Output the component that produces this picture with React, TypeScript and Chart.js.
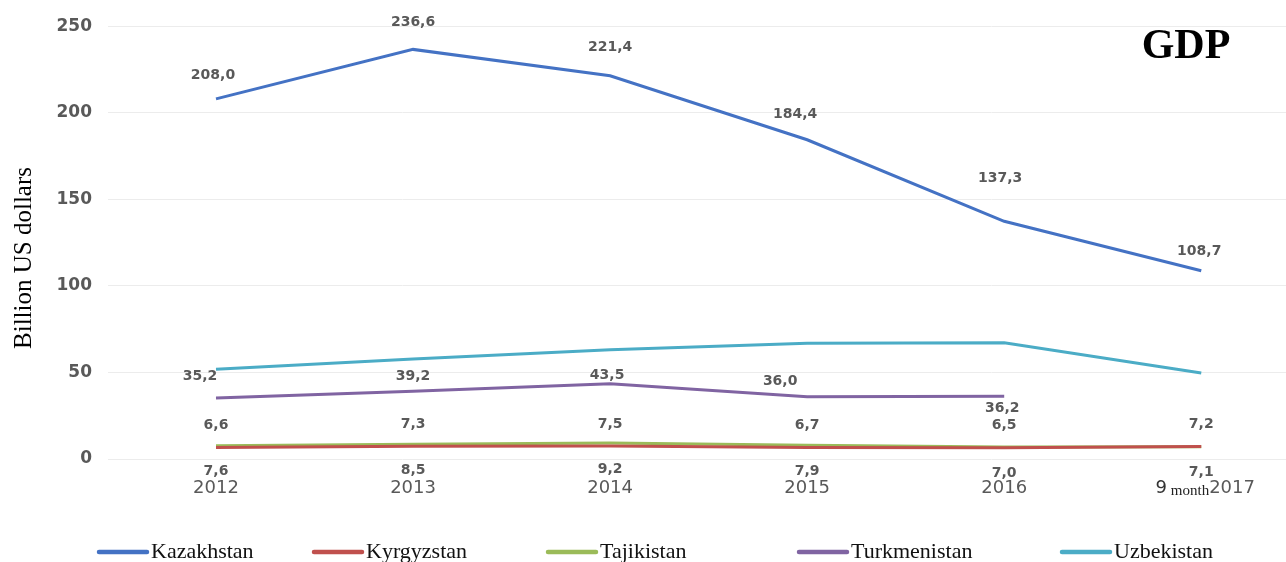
import React, { useEffect, useRef } from "react";
import { Chart, registerables } from "chart.js";

Chart.register(...registerables);

const years = ["2012", "2013", "2014", "2015", "2016", "2017"];
const kazakhstan = [208.0, 236.6, 221.4, 184.4, 137.3, 108.7];
const kyrgyzstan = [6.6, 7.3, 7.5, 6.7, 6.5, 7.2];
const tajikistan = [7.6, 8.5, 9.2, 7.9, 7.0, 7.1];
const turkmenistan = [35.2, 39.2, 43.5, 36.0, 36.2];
const uzbekistan = [51.8, 57.7, 63.1, 66.9, 67.2, 49.7];

const fmt = (v: number) => v.toFixed(1).replace(".", ",");
const toPoints = (arr: number[]) => arr.map((y, i) => ({ x: i, y }));

// label placement offsets (px) relative to each point
const labelStyle: Record<string, { dx: number[]; dy: number[] }> = {
  Kazakhstan: { dx: [-3, 0, 0, -12, -4, -2], dy: [-24, -27, -28, -25, -43, -19] },
  Kyrgyzstan: { dx: [0, 0, 0, 0, 0, 0], dy: [-22, -22, -22, -22, -22, -22] },
  Tajikistan: { dx: [0, 0, 0, 0, 0, 0], dy: [26, 26, 26, 26, 26, 26] },
  Turkmenistan: { dx: [-16, 0, -3, -27, -2], dy: [-22, -15, -8, -15, 12] },
};

// legend item start positions (px)
const legendX = [97, 312, 546, 797, 1060];

const SANS = "'DejaVu Sans', sans-serif";
const SERIF = "'Liberation Serif', 'Times New Roman', serif";

export default function App() {
  const ref = useRef<HTMLCanvasElement | null>(null);
  useEffect(() => {
    document.body.style.margin = "0";
    if (!ref.current) return;
    const overlay = {
      id: "overlay",
      afterDatasetsDraw(chart: any) {
        const ctx = chart.ctx;
        ctx.save();
        // data labels
        chart.data.datasets.forEach((ds: any, di: number) => {
          const st = labelStyle[ds.label];
          if (!st) return;
          const meta = chart.getDatasetMeta(di);
          ctx.font = `bold 14px ${SANS}`;
          ctx.fillStyle = "#595959";
          ctx.textAlign = "center";
          ctx.textBaseline = "middle";
          meta.data.forEach((pt: any, i: number) => {
            ctx.fillText(fmt(ds.data[i].y), pt.x + st.dx[i], pt.y + st.dy[i]);
          });
        });
        // x labels
        const xs = chart.scales.x;
        const yb = chart.chartArea.bottom + 29;
        ctx.fillStyle = "#595959";
        ctx.textBaseline = "middle";
        const yrFont = `18px ${SANS}`;
        years.forEach((yr, i) => {
          const px = xs.getPixelForValue(i);
          ctx.font = yrFont;
          if (i < years.length - 1) {
            ctx.textAlign = "center";
            ctx.fillText(yr, px, yb);
          } else {
            const w9 = ctx.measureText("9").width;
            const wy = ctx.measureText(yr).width;
            ctx.font = `15px ${SERIF}`;
            const wm = ctx.measureText(" month").width;
            const total = w9 + wm + wy;
            let x0 = px - total / 2 + 4;
            ctx.textAlign = "left";
            ctx.font = yrFont;
            ctx.fillStyle = "#333";
            ctx.fillText("9", x0, yb);
            x0 += w9;
            ctx.font = `15px ${SERIF}`;
            ctx.fillStyle = "#222";
            ctx.fillText(" month", x0, yb + 3);
            x0 += wm;
            ctx.fillStyle = "#595959";
            ctx.font = yrFont;
            ctx.fillText(yr, x0, yb);
          }
        });
        // legend
        ctx.textAlign = "left";
        ctx.textBaseline = "middle";
        ctx.font = `22px ${SERIF}`;
        chart.data.datasets.forEach((ds: any, di: number) => {
          const x0 = legendX[di];
          const ly = 552;
          ctx.strokeStyle = ds.borderColor;
          ctx.lineWidth = 4.5;
          ctx.lineCap = "round";
          ctx.beginPath();
          ctx.moveTo(x0 + 2, ly);
          ctx.lineTo(x0 + 50, ly);
          ctx.stroke();
          ctx.fillStyle = "#111";
          ctx.fillText(ds.label, x0 + 54, ly);
        });
        // title
        ctx.fillStyle = "#000";
        ctx.font = `bold 42px ${SERIF}`;
        ctx.textAlign = "center";
        ctx.fillText("GDP", 1186, 47);
        // axis title
        ctx.translate(24, 258);
        ctx.rotate(-Math.PI / 2);
        ctx.font = `25px ${SERIF}`;
        ctx.fillStyle = "#000";
        ctx.fillText("Billion US dollars", 0, 0);
        ctx.restore();
      },
    };
    const mk = (label: string, data: number[], color: string) => ({
      label,
      data: toPoints(data),
      borderColor: color,
      backgroundColor: color,
      borderWidth: 3,
      pointRadius: 0,
      tension: 0,
    });
    const chart = new Chart(ref.current, {
      type: "line",
      data: {
        datasets: [
          mk("Kazakhstan", kazakhstan, "#4472C4"),
          mk("Kyrgyzstan", kyrgyzstan, "#C0504D"),
          mk("Tajikistan", tajikistan, "#9BBB59"),
          mk("Turkmenistan", turkmenistan, "#8064A2"),
          mk("Uzbekistan", uzbekistan, "#4BACC6"),
        ],
      },
      options: {
        animation: false,
        responsive: false,
        maintainAspectRatio: false,
        layout: { padding: { top: 24, right: 0, left: 0, bottom: 0 } },
        plugins: {
          legend: { display: false },
          tooltip: { enabled: false },
        },
        scales: {
          x: {
            type: "linear",
            min: -0.548,
            max: 5.43,
            grid: { display: false },
            border: { display: false },
            ticks: { display: false },
            afterFit: (s: any) => {
              s.height = 103;
            },
          },
          y: {
            min: 0,
            max: 250,
            ticks: {
              stepSize: 50,
              color: "#595959",
              padding: 16,
              font: { family: SANS, size: 17, weight: "bold" },
            },
            grid: { color: "#ececec", drawTicks: false },
            border: { display: false },
            afterFit: (s: any) => {
              s.width = 108;
            },
          },
        },
      },
      plugins: [overlay],
    } as any);
    return () => chart.destroy();
  }, []);
  return <canvas ref={ref} width={1286} height={562} style={{ display: "block" }} />;
}
